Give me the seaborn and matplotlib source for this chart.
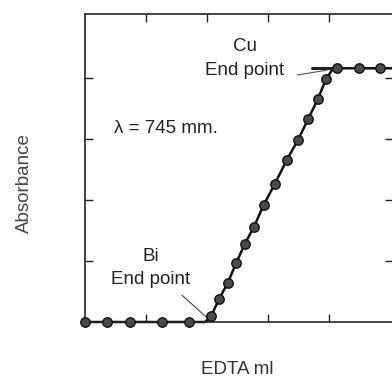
import pandas as pd
import seaborn as sns
import matplotlib.pyplot as plt

# EDTA titration curve (absorbance vs EDTA ml)
bi_x = [0.0, 0.36, 0.74, 1.26, 1.70]
bi_y = [0.0, 0.0, 0.0, 0.0, 0.0]
rise_x = [2.07, 2.20, 2.34, 2.48, 2.62, 2.77, 2.93, 3.11, 3.31, 3.49, 3.66, 3.82, 3.95]
rise_y = [0.10, 0.38, 0.64, 0.97, 1.28, 1.56, 1.92, 2.26, 2.66, 2.98, 3.33, 3.66, 3.98]
cu_x = [4.13, 4.49, 4.84, 5.20]
cu_y = [4.16, 4.16, 4.16, 4.16]
bi_end = (1.97, 0.0)
cu_end = (4.07, 4.16)
ticks = [1, 2, 3, 4]

sns.set_theme(style="white")
plt.rcParams['font.family'] = ['Liberation Sans', 'DejaVu Sans']

pts = pd.DataFrame({"x": bi_x + rise_x + cu_x, "y": bi_y + rise_y + cu_y})
path = pd.DataFrame({
    "x": bi_x + [bi_end[0]] + rise_x + [cu_end[0]] + cu_x,
    "y": bi_y + [bi_end[1]] + rise_y + [cu_end[1]] + cu_y,
})

fig = plt.figure(figsize=(3.92, 3.83), dpi=100)
ax = fig.add_axes([85 / 392, 61 / 383, 308 / 392, 308 / 383])

sns.lineplot(data=path, x="x", y="y", sort=False, color="#111111", linewidth=1.8,
             ax=ax, clip_on=False)
sns.scatterplot(data=pts, x="x", y="y", s=46, color="#4a4a4a", edgecolor="#111111",
                linewidth=1.0, ax=ax, clip_on=False, zorder=3)

# extrapolation stub at the Cu end point
ax.plot([3.72, cu_end[0]], [cu_end[1], cu_end[1]], color="#222222", linewidth=2.2)

ax.set_xlim(0, 5.05)
ax.set_ylim(0, 5.05)
ax.set_xticks(ticks)
ax.set_yticks(ticks)
ax.tick_params(direction="in", length=6, width=1, colors="#222222",
               top=True, bottom=True, left=True, right=True,
               labelbottom=False, labelleft=False)
for s in ax.spines.values():
    s.set_color("#222222")
    s.set_linewidth(1.2)
ax.set_xlabel("")
ax.set_ylabel("")

fs = 13.5
ax.text(2.62, 4.52, "Cu", ha="center", va="center", fontsize=fs, color="#222222")
ax.text(2.61, 4.13, "End point", ha="center", va="center", fontsize=fs, color="#222222")
ax.plot([3.48, 3.97], [4.05, 4.13], color="#555555", linewidth=0.8)
ax.text(1.33, 3.18, "λ = 745 mm.", ha="center", va="center", fontsize=fs, color="#222222")
ax.text(1.08, 1.07, "Bi", ha="center", va="center", fontsize=fs, color="#222222")
ax.text(1.08, 0.69, "End point", ha="center", va="center", fontsize=fs, color="#222222")
ax.plot([1.59, 2.0], [0.44, 0.07], color="#444444", linewidth=0.8)

fig.text(24 / 392, 1 - 183 / 383, "Absorbance", rotation=90, ha="center", va="center",
         fontsize=fs, color="#444444")
fig.text(237 / 392, 1 - 370 / 383, "EDTA ml", ha="center", va="center",
         fontsize=fs, color="#333333")

fig.savefig("out.png", dpi=100)
